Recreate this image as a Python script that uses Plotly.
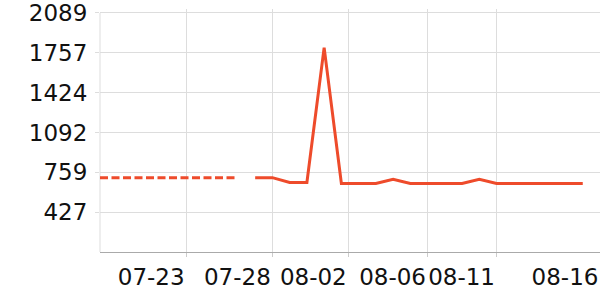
import plotly.graph_objects as go
import pandas as pd

start = "2024-07-18"
dates = pd.date_range(start, periods=29, freq="D").strftime("%Y-%m-%d").tolist()

# dashed (earlier) series: indices 0..8
dashed_dates = dates[0:9]
dashed_vals = [715, 715, 715, 715, 715, 715, 715, 715, 715]

# solid series: indices 9..28
solid_dates = dates[9:29]
solid_vals = [715, 715, 674, 674, 1800, 666, 666, 666, 702, 666,
              666, 666, 666, 702, 666, 666, 666, 666, 666, 666]

x_tickvals = ["2024-07-23", "2024-07-28", "2024-08-01 09:40", "2024-08-06",
              "2024-08-10", "2024-08-16"]
x_ticktext = ["07-23", "07-28", "08-02", "08-06", "08-11", "08-16"]

y_tickvals = [427, 759, 1092, 1424, 1757, 2089]
y_ticktext = ["427", "759", "1092", "1424", "1757", "2089"]
y_min = 94.6

color = "#EE4B2B"

fig = go.Figure()
fig.add_trace(go.Scatter(x=dashed_dates, y=dashed_vals, mode="lines",
                         line=dict(color=color, width=3, dash="8px,3.5px"),
                         showlegend=False))
fig.add_trace(go.Scatter(x=solid_dates, y=solid_vals, mode="lines",
                         line=dict(color=color, width=3),
                         showlegend=False))

font = dict(family="DejaVu Sans", size=23, color="#111")

fig.update_layout(
    width=600, height=300,
    margin=dict(l=100, r=0, t=6, b=48),
    paper_bgcolor="white", plot_bgcolor="white",
    showlegend=False,
    font=font,
)
# left axis line (only up to the top grid line)
fig.add_shape(type="line", xref="paper", yref="y", x0=0, x1=0,
              y0=y_min, y1=y_tickvals[-1],
              line=dict(color="#dddddd", width=1), layer="below")
fig.update_xaxes(
    type="date",
    range=["2024-07-18", "2024-08-16"],
    tickmode="array", tickvals=x_tickvals, ticktext=x_ticktext,
    showgrid=True, gridcolor="#dddddd", gridwidth=1,
    showline=True, linecolor="#aaaaaa", linewidth=1,
    ticks="outside", ticklen=4, tickcolor="#cccccc",
    ticklabelshift=-35,
    tickfont=font,
    zeroline=False,
)
fig.update_yaxes(
    range=[y_min, 2122],
    tickmode="array", tickvals=y_tickvals, ticktext=y_ticktext,
    showgrid=True, gridcolor="#dddddd", gridwidth=1,
    showline=False,
    ticks="outside", ticklen=4, tickcolor="#dddddd",
    ticklabelstandoff=3,
    ticklabeloverflow="allow",
    tickfont=font,
    zeroline=False,
)

fig.write_html("out.html")
